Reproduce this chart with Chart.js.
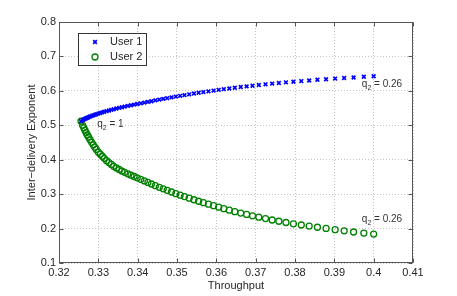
<!DOCTYPE html>
<html>
<head>
<meta charset="utf-8">
<script src="https://cdn.jsdelivr.net/npm/chart.js@4/dist/chart.umd.min.js"></script>
<style>
  html, body { margin: 0; padding: 0; background: #fff; }
  #wrap { width: 457px; height: 296px; }
</style>
</head>
<body>
<div id="wrap"><canvas id="c" width="457" height="296"></canvas></div>
<script>
// ---- data ----
const throughput = [0.3256, 0.3260, 0.3263, 0.3266, 0.3269, 0.3272, 0.3275, 0.3279, 0.3283, 0.3287,
  0.3291, 0.3295, 0.3300, 0.3305, 0.3310, 0.3315, 0.3321, 0.3327, 0.3333, 0.3339,
  0.3346, 0.3353, 0.3360, 0.3367, 0.3375, 0.3383, 0.3391, 0.3399, 0.3408, 0.3417,
  0.3426, 0.3435, 0.3445, 0.3455, 0.3465, 0.3475, 0.3486, 0.3497, 0.3508, 0.3519,
  0.3531, 0.3543, 0.3555, 0.3567, 0.3580, 0.3593, 0.3606, 0.3619, 0.3633, 0.3647,
  0.3662, 0.3677, 0.3692, 0.3708, 0.3725, 0.3742, 0.3759, 0.3777, 0.3796, 0.3816,
  0.3836, 0.3857, 0.3879, 0.3902, 0.3925, 0.3949, 0.3975, 0.4000];

const user1 = [0.5120, 0.5150, 0.5168, 0.5186, 0.5204, 0.5220, 0.5235, 0.5255, 0.5272, 0.5288,
  0.5304, 0.5320, 0.5340, 0.5358, 0.5375, 0.5393, 0.5413, 0.5431, 0.5449, 0.5467,
  0.5487, 0.5506, 0.5525, 0.5543, 0.5563, 0.5582, 0.5600, 0.5618, 0.5638, 0.5659,
  0.5680, 0.5700, 0.5724, 0.5746, 0.5767, 0.5788, 0.5811, 0.5834, 0.5855, 0.5876,
  0.5899, 0.5922, 0.5944, 0.5964, 0.5986, 0.6008, 0.6029, 0.6049, 0.6070, 0.6091,
  0.6111, 0.6130, 0.6150, 0.6170, 0.6190, 0.6210, 0.6229, 0.6247, 0.6266, 0.6284,
  0.6302, 0.6321, 0.6338, 0.6356, 0.6373, 0.6389, 0.6408, 0.6425];

const user2 = [0.5120, 0.5000, 0.4928, 0.4856, 0.4784, 0.4720, 0.4660, 0.4580, 0.4506, 0.4434,
  0.4364, 0.4300, 0.4220, 0.4160, 0.4100, 0.4040, 0.3971, 0.3917, 0.3863, 0.3809,
  0.3761, 0.3716, 0.3670, 0.3633, 0.3591, 0.3551, 0.3513, 0.3475, 0.3430, 0.3385,
  0.3340, 0.3295, 0.3245, 0.3198, 0.3154, 0.3110, 0.3062, 0.3013, 0.2970, 0.2928,
  0.2882, 0.2837, 0.2793, 0.2752, 0.2708, 0.2664, 0.2621, 0.2579, 0.2534, 0.2490,
  0.2449, 0.2410, 0.2371, 0.2331, 0.2290, 0.2249, 0.2212, 0.2176, 0.2138, 0.2104,
  0.2072, 0.2039, 0.2004, 0.1967, 0.1935, 0.1901, 0.1870, 0.1840];

const xTicks = [0.32, 0.33, 0.34, 0.35, 0.36, 0.37, 0.38, 0.39, 0.40, 0.41];
const yTicks = [0.1, 0.2, 0.3, 0.4, 0.5, 0.6, 0.7, 0.8];
const seriesNames = ['User 1', 'User 2'];
const annotations = [
  { x: 0.3297, y: 0.495, sub: '2', text: ' = 1' },
  { x: 0.3970, y: 0.610, sub: '2', text: ' = 0.26' },
  { x: 0.3970, y: 0.220, sub: '2', text: ' = 0.26' }
];

// ---- styling ----
const FONT = '"Liberation Sans", Arial, Helvetica, sans-serif';
const TXT = '#262626';
const BLUE = '#0000ff';
const GREEN = '#008000';
const fmt = v => parseFloat(Number(v).toFixed(2)).toString();

const boxPlugin = {
  id: 'matlabBox',
  afterDraw(chart) {
    const { ctx, chartArea: a, scales } = chart;
    const L = Math.round(a.left) + 0.5, R = Math.round(a.right) - 0.5;
    const T = Math.round(a.top) + 0.5, B = Math.round(a.bottom) - 0.5;
    ctx.save();
    ctx.strokeStyle = '#555';
    ctx.lineWidth = 1;
    ctx.setLineDash([]);
    ctx.strokeRect(L, T, R - L, B - T);
    ctx.beginPath();
    const tl = 4;
    xTicks.forEach(v => {
      const px = Math.round(scales.x.getPixelForValue(v)) + 0.5;
      ctx.moveTo(px, B); ctx.lineTo(px, B - tl);
      ctx.moveTo(px, T); ctx.lineTo(px, T + tl);
    });
    yTicks.forEach(v => {
      const py = Math.round(scales.y.getPixelForValue(v)) + 0.5;
      ctx.moveTo(L, py); ctx.lineTo(L + tl, py);
      ctx.moveTo(R, py); ctx.lineTo(R - tl, py);
    });
    ctx.stroke();

    // legend
    const lx = 78.5, ly = 33.5, lw = 68, lh = 32;
    ctx.fillStyle = '#fff';
    ctx.fillRect(lx, ly, lw, lh);
    ctx.strokeStyle = '#333';
    ctx.strokeRect(lx, ly, lw, lh);
    const ds = chart.data.datasets;
    [42, 57].forEach((yy, i) => {
      ctx.strokeStyle = ds[i].borderColor;
      ctx.fillStyle = ds[i].backgroundColor;
      ctx.lineWidth = ds[i].pointBorderWidth;
      Chart.helpers.drawPoint(ctx, {
        pointStyle: ds[i].pointStyle, radius: ds[i].pointRadius,
        borderWidth: ds[i].pointBorderWidth
      }, 95, yy);
      ctx.fillStyle = TXT;
      ctx.font = '11px ' + FONT;
      ctx.textBaseline = 'middle';
      ctx.textAlign = 'left';
      ctx.fillText(seriesNames[i], 110, yy);
    });

    // annotations
    ctx.fillStyle = '#333';
    ctx.textBaseline = 'alphabetic';
    annotations.forEach(an => {
      let px = scales.x.getPixelForValue(an.x);
      const py = scales.y.getPixelForValue(an.y);
      ctx.font = '10px ' + FONT;
      ctx.fillText('q', px, py);
      px += ctx.measureText('q').width;
      ctx.font = '7px ' + FONT;
      ctx.fillText(an.sub, px, py + 3);
      px += ctx.measureText(an.sub).width;
      ctx.font = '10px ' + FONT;
      ctx.fillText(an.text, px, py);
    });
    ctx.restore();
  }
};

const toPts = ys => throughput.map((x, i) => ({ x: x, y: ys[i] }));

new Chart(document.getElementById('c'), {
  type: 'scatter',
  data: {
    datasets: [
      { label: seriesNames[0], data: toPts(user1), pointStyle: 'crossRot', pointRadius: 2.6,
        pointBorderWidth: 1.7, borderColor: BLUE, backgroundColor: BLUE, showLine: false },
      { label: seriesNames[1], data: toPts(user2), pointStyle: 'circle', pointRadius: 3,
        pointBorderWidth: 1.3, borderColor: GREEN, backgroundColor: 'rgba(0,0,0,0)', showLine: false }
    ]
  },
  options: {
    responsive: false,
    animation: false,
    events: [],
    layout: { padding: { left: 21, right: 44, top: 22, bottom: 0 } },
    plugins: { legend: { display: false }, tooltip: { enabled: false } },
    scales: {
      x: {
        type: 'linear', min: 0.32, max: 0.41,
        afterBuildTicks: s => { s.ticks = xTicks.map(v => ({ value: v })); },
        afterFit: s => { s.height = 33; },
        ticks: { callback: v => fmt(v), color: TXT, font: { family: FONT, size: 11 },
          padding: 3, maxRotation: 0, autoSkip: false },
        grid: { color: '#c4c4c4', drawTicks: false, lineWidth: 1 },
        border: { display: false, dash: [1, 2] },
        title: { display: true, text: 'Throughput', color: TXT,
          font: { family: FONT, size: 11 }, padding: { top: 0, bottom: 3 } }
      },
      y: {
        type: 'linear', min: 0.1, max: 0.8,
        afterBuildTicks: s => { s.ticks = yTicks.map(v => ({ value: v })); },
        afterFit: s => { s.width = 38; },
        ticks: { callback: v => fmt(v), color: TXT, font: { family: FONT, size: 11 },
          padding: 3, autoSkip: false },
        grid: { color: '#c4c4c4', drawTicks: false, lineWidth: 1 },
        border: { display: false, dash: [1, 2] },
        title: { display: true, text: 'Inter\u2212delivery Exponent', color: TXT,
          font: { family: FONT, size: 11 }, padding: { top: 4, bottom: 0 } }
      }
    }
  },
  plugins: [boxPlugin]
});
</script>
</body>
</html>
